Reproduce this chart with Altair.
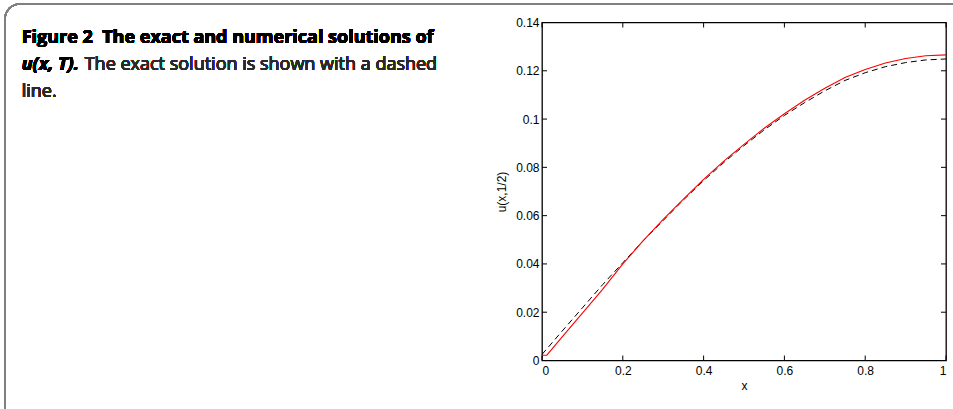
import altair as alt
import pandas as pd

# ---- data ----
x_exact = [0.0, 0.05, 0.1, 0.15, 0.2, 0.25, 0.3, 0.35, 0.4, 0.45, 0.5,
           0.55, 0.6, 0.65, 0.7, 0.75, 0.8, 0.85, 0.9, 0.95, 1.0]
u_exact = [0.0025, 0.0122, 0.0218, 0.0314, 0.0405, 0.0495, 0.0580, 0.0665,
           0.0745, 0.0820, 0.0890, 0.0955, 0.1015, 0.1068, 0.1117, 0.1160,
           0.1192, 0.1217, 0.1234, 0.1245, 0.1249]

x_num = [0.0, 0.012, 0.05, 0.1, 0.15, 0.2, 0.25, 0.3, 0.35, 0.4, 0.45, 0.5,
         0.55, 0.6, 0.65, 0.7, 0.75, 0.8, 0.85, 0.9, 0.95, 1.0]
u_num = [0.0022, 0.0022, 0.0098, 0.0196, 0.0295, 0.0400, 0.0495, 0.0585,
         0.0668, 0.0750, 0.0826, 0.0895, 0.0962, 0.1022, 0.1078, 0.1128,
         0.1172, 0.1205, 0.1232, 0.1251, 0.1262, 0.1266]

x_ticks = [0, 0.2, 0.4, 0.6, 0.8, 1]
y_ticks = [0, 0.02, 0.04, 0.06, 0.08, 0.1, 0.12, 0.14]

caption_bold_1 = "Figure 2\u00a0\u00a0The exact and numerical solutions of"
caption_bolditalic_2 = "u(x, T)."
caption_regular_2 = "The exact solution is shown with a dashed"
caption_regular_3 = "line."

W, H = 404, 338
FONT = "Liberation Sans"
CAP_FONT = "Open Sans"
CAP_SIZE = 18

exact_df = pd.DataFrame({"x": x_exact, "u": u_exact})
num_df = pd.DataFrame({"x": x_num, "u": u_num})
xt_df = pd.DataFrame({"t": x_ticks})
yt_df = pd.DataFrame({"t": y_ticks})

xscale = alt.Scale(domain=[0, 1], nice=False, zero=False)
yscale = alt.Scale(domain=[0, 0.14], nice=False, zero=False)

xaxis = alt.Axis(values=x_ticks, format="~g", title="x", domain=False, ticks=False,
                 grid=False, labelFont=FONT, labelFontSize=12, labelColor="black",
                 labelPadding=5, titleFont=FONT, titleFontSize=12,
                 titleFontWeight="normal", titleColor="black", titlePadding=4)
yaxis = alt.Axis(values=y_ticks, format="~g", title="u(x,1/2)", domain=False,
                 ticks=False, grid=False, labelFont=FONT, labelFontSize=12,
                 labelColor="black", labelPadding=3, titleFont=FONT,
                 titleFontSize=12, titleFontWeight="normal", titleColor="black",
                 titlePadding=7)

exact = alt.Chart(exact_df).mark_line(color="black", strokeWidth=1,
                                      strokeDash=[6, 4]).encode(
    x=alt.X("x:Q", scale=xscale, axis=xaxis),
    y=alt.Y("u:Q", scale=yscale, axis=yaxis),
)
numer = alt.Chart(num_df).mark_line(color="#ff0000", strokeWidth=1.1).encode(
    x=alt.X("x:Q", scale=xscale),
    y=alt.Y("u:Q", scale=yscale),
)

TL = 5
xt_bottom = alt.Chart(xt_df).mark_rule(color="black", strokeWidth=1).encode(
    x=alt.X("t:Q", scale=xscale), y=alt.value(H), y2=alt.value(H - TL))
xt_top = alt.Chart(xt_df).mark_rule(color="black", strokeWidth=1).encode(
    x=alt.X("t:Q", scale=xscale), y=alt.value(0), y2=alt.value(TL))
yt_left = alt.Chart(yt_df).mark_rule(color="black", strokeWidth=1).encode(
    y=alt.Y("t:Q", scale=yscale), x=alt.value(0), x2=alt.value(TL))
yt_right = alt.Chart(yt_df).mark_rule(color="black", strokeWidth=1).encode(
    y=alt.Y("t:Q", scale=yscale), x=alt.value(W), x2=alt.value(W - TL))

# figure frame (rounded box) and caption, positioned relative to plot origin
OX, OY = 542, 22.5
frame = alt.Chart(exact_df).mark_rect(filled=False, stroke="#808080", strokeWidth=1.5,
                                      cornerRadius=15).encode(
    x=alt.value(5 - OX), x2=alt.value(975 - OX),
    y=alt.value(4 - OY), y2=alt.value(425 - OY))

cap1 = alt.Chart(exact_df).mark_text(text=caption_bold_1, font=CAP_FONT, fontSize=CAP_SIZE,
                                     fontWeight="bold", align="left",
                                     baseline="alphabetic", color="black").encode(
    x=alt.value(21.7 - OX), y=alt.value(43.3 - OY))
cap2a = alt.Chart(exact_df).mark_text(text=caption_bolditalic_2, font=CAP_FONT,
                                      fontSize=CAP_SIZE, fontWeight="bold",
                                      fontStyle="italic", align="left",
                                      baseline="alphabetic", color="black").encode(
    x=alt.value(21.7 - OX), y=alt.value(70 - OY))
cap2b = alt.Chart(exact_df).mark_text(text=caption_regular_2, font=CAP_FONT,
                                      fontSize=CAP_SIZE, fontWeight="normal",
                                      align="left", baseline="alphabetic",
                                      color="#2a2a2a").encode(
    x=alt.value(84.7 - OX), y=alt.value(70 - OY))
cap3 = alt.Chart(exact_df).mark_text(text=caption_regular_3, font=CAP_FONT,
                                     fontSize=CAP_SIZE, fontWeight="normal",
                                     align="left", baseline="alphabetic",
                                     color="#2a2a2a").encode(
    x=alt.value(21.7 - OX), y=alt.value(96.7 - OY))

chart = alt.layer(
    frame, exact, numer, xt_bottom, xt_top, yt_left, yt_right,
    cap1, cap2a, cap2b, cap3,
).properties(
    width=W, height=H,
    autosize=alt.AutoSizeParams(type="none"),
    padding={"left": OX, "top": OY, "right": 953 - OX - W, "bottom": 409 - OY - H},
    background="white",
).configure_view(stroke="black", strokeWidth=1.3)

chart.save("out.html", embed_options={"renderer": "svg", "actions": False})
